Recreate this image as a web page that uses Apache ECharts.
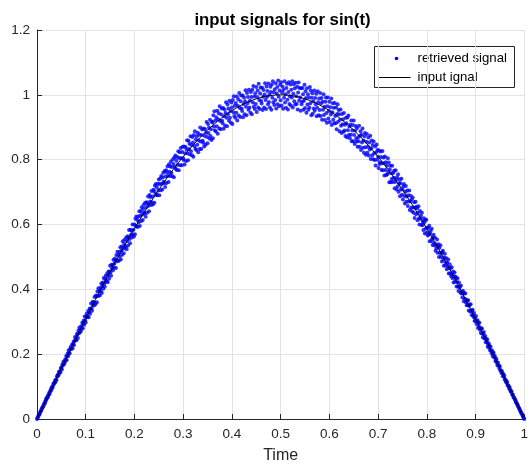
<!DOCTYPE html>
<html>
<head>
<meta charset="utf-8">
<script src="https://cdn.jsdelivr.net/npm/echarts@6/dist/echarts.min.js"></script>
<style>html,body{margin:0;padding:0;background:#fff;}#chart{width:531px;height:469px;}</style>
</head>
<body>
<div id="chart"></div>
<script>
// x tick values and y tick values
const xTicks = [0, 0.1, 0.2, 0.3, 0.4, 0.5, 0.6, 0.7, 0.8, 0.9, 1];
const yTicks = [0, 0.2, 0.4, 0.6, 0.8, 1, 1.2];

// input signal, sampled every 0.01 of time
const inputStep = 0.01;
const inputSignal = [
0, .0314, .0628, .0941, .1253, .1564, .1874, .2181, .2487, .2790,
.3090, .3387, .3681, .3971, .4258, .4540, .4818, .5090, .5358, .5621,
.5878, .6129, .6374, .6613, .6845, .7071, .7290, .7501, .7705, .7902,
.8090, .8271, .8443, .8607, .8763, .8910, .9048, .9178, .9298, .9409,
.9511, .9603, .9686, .9759, .9823, .9877, .9921, .9956, .9980, .9995,
1,
.9995, .9980, .9956, .9921, .9877, .9823, .9759, .9686, .9603, .9511,
.9409, .9298, .9178, .9048, .8910, .8763, .8607, .8443, .8271, .8090,
.7902, .7705, .7501, .7290, .7071, .6845, .6613, .6374, .6129, .5878,
.5621, .5358, .5090, .4818, .4540, .4258, .3971, .3681, .3387, .3090,
.2790, .2487, .2181, .1874, .1564, .1253, .0941, .0628, .0314, 0
];

// retrieved signal, sampled every 0.001 of time
const retrievedStep = 0.001;
const retrievedSignal = [
0,.003,.006,.010,.012,.015,.019,.022,.025,.028,
.033,.034,.038,.039,.045,.048,.048,.055,.056,.063,
.062,.067,.067,.073,.074,.081,.078,.085,.090,.088,
.098,.096,.097,.104,.110,.109,.111,.119,.114,.122,
.120,.132,.132,.137,.134,.146,.141,.147,.144,.157,
.158,.153,.168,.165,.176,.168,.177,.173,.184,.181,
.194,.182,.194,.202,.194,.212,.205,.202,.215,.222,
.216,.217,.230,.218,.230,.238,.228,.241,.253,.243,
.249,.243,.262,.261,.250,.273,.265,.282,.267,.278,
.271,.287,.281,.298,.279,.295,.304,.291,.316,.304,
.298,.316,.325,.315,.315,.333,.314,.330,.340,.325,
.341,.356,.341,.334,.361,.352,.361,.350,.376,.358,
.354,.381,.378,.360,.393,.380,.403,.380,.395,.382,
.404,.394,.418,.389,.411,.421,.402,.435,.417,.408,
.432,.442,.426,.425,.450,.422,.443,.455,.433,.454,
.473,.452,.442,.476,.464,.475,.459,.491,.467,.480,
.495,.489,.466,.506,.489,.516,.487,.506,.489,.515,
.501,.530,.492,.519,.532,.507,.548,.525,.511,.540,
.553,.532,.530,.560,.524,.549,.564,.535,.560,.583,
.555,.542,.584,.568,.581,.560,.600,.569,.584,.563,
.600,.570,.618,.596,.625,.593,.614,.593,.625,.607,
.641,.595,.627,.641,.611,.653,.631,.614,.648,.661,
.636,.634,.667,.624,.653,.669,.636,.665,.686,.658,
.641,.691,.671,.685,.660,.703,.669,.686,.662,.707,
.703,.667,.720,.696,.725,.691,.715,.690,.726,.705,
.739,.690,.725,.742,.706,.750,.726,.708,.745,.760,
.732,.727,.765,.716,.748,.767,.728,.760,.780,.750,
.731,.786,.763,.779,.750,.794,.759,.777,.749,.801,
.787,.746,.807,.778,.813,.771,.797,.768,.808,.784,
.826,.767,.805,.823,.783,.836,.804,.783,.824,.840,
.804,.799,.841,.785,.820,.839,.796,.831,.860,.819,
.798,.858,.833,.849,.816,.872,.826,.845,.814,.870,
.853,.809,.876,.842,.888,.834,.862,.830,.872,.846,
.883,.823,.859,.877,.833,.899,.856,.833,.876,.893,
.858,.852,.896,.841,.873,.894,.846,.883,.916,.870,
.851,.910,.882,.899,.865,.923,.873,.894,.861,.918,
.915,.866,.937,.902,.949,.891,.921,.887,.931,.903,
.951,.880,.924,.943,.896,.965,.919,.894,.939,.958,
.920,.912,.959,.895,.934,.955,.905,.944,.977,.929,
.903,.970,.940,.958,.920,.982,.929,.950,.914,.976,
.961,.910,.984,.946,.996,.935,.966,.929,.975,.945,
.995,.921,.966,.986,.936,1.006,.959,.932,.980,.998,
.958,.950,.998,.931,.972,.992,.940,.980,1.014,.963,
.937,1.006,.974,.993,.954,1.016,.961,.982,.945,1.009,
.993,.940,1.016,.976,1.027,.963,.995,.956,1.005,.972,
1.024,.947,.993,1.013,.961,1.034,.984,.956,1.004,1.023,
.981,.973,1.022,.953,.994,1.015,.961,1.001,1.036,.984,
.956,1.026,.993,1.012,.971,1.035,.978,1.000,.961,1.025,
1.009,.954,1.032,.991,1.042,.977,1.008,.969,1.017,.984,
1.036,.958,1.004,1.024,.971,1.044,.994,.965,1.013,1.031,
.983,1.039,.967,1.007,1.026,.957,1.016,.991,1.042,.976,
1.002,.960,1.021,1.034,.985,.955,1.009,1.039,.972,.996,
1.032,.967,1.016,.992,1.042,.961,1.003,1.033,.980,1.020,
.970,1.037,.996,.972,1.025,.955,1.007,1.038,.982,1.021,
.992,.951,1.020,.971,.979,1.021,1.002,.954,.982,1.031,
.959,1.011,.990,.945,1.020,.970,1.002,.954,.992,.961,
1.024,.974,1.013,.937,.991,1.005,.942,.980,.958,1.013,
.951,.990,.971,1.003,.934,.960,1.011,.977,.937,.989,
.953,1.006,.935,.973,.990,.923,.979,.954,1.002,.938,
.963,.922,.979,.992,.944,.914,.965,.992,.927,.950,
.979,.916,.962,.939,.989,.907,.946,.974,.923,.960,
.912,.975,.935,.912,.961,.894,.941,.971,.917,.953,
.940,.888,.923,.955,.905,.882,.941,.909,.925,.886,
.944,.890,.908,.873,.929,.912,.869,.930,.891,.936,
.876,.902,.866,.908,.877,.921,.857,.890,.907,.857,
.921,.876,.848,.890,.904,.865,.856,.898,.840,.869,
.857,.905,.840,.874,.888,.830,.877,.853,.896,.837,
.859,.821,.872,.882,.838,.815,.855,.879,.821,.840,
.868,.813,.853,.831,.874,.802,.835,.859,.814,.845,
.801,.856,.820,.799,.841,.782,.823,.847,.800,.830,
.809,.774,.828,.787,.792,.825,.808,.768,.789,.827,
.767,.807,.789,.751,.810,.768,.792,.753,.781,.755,
.804,.762,.791,.730,.770,.781,.730,.758,.740,.781,
.731,.759,.744,.766,.712,.731,.767,.739,.708,.746,
.717,.755,.701,.727,.739,.687,.727,.708,.741,.692,
.709,.677,.718,.725,.688,.665,.701,.719,.670,.686,
.705,.657,.690,.671,.705,.645,.672,.689,.652,.677,
.640,.683,.653,.636,.669,.620,.652,.670,.632,.655,
.650,.613,.636,.656,.619,.600,.642,.618,.627,.599,
.636,.598,.609,.583,.619,.607,.572,.615,.588,.615,
.575,.590,.566,.590,.569,.596,.548,.572,.581,.549,
.587,.556,.537,.561,.568,.543,.535,.559,.519,.538,
.527,.554,.513,.532,.539,.500,.528,.512,.536,.500,
.511,.486,.515,.519,.491,.473,.498,.510,.474,.483,
.496,.462,.483,.468,.492,.449,.465,.477,.450,.466,
.440,.468,.446,.434,.455,.421,.440,.452,.424,.439,
.435,.409,.423,.434,.409,.395,.421,.405,.409,.390,
.412,.387,.392,.375,.396,.387,.363,.389,.371,.387,
.360,.368,.351,.365,.351,.366,.335,.349,.353,.332,
.354,.334,.321,.334,.337,.320,.315,.327,.302,.312,
.304,.318,.293,.302,.305,.281,.296,.285,.297,.275,
.280,.265,.279,.279,.263,.252,.264,.268,.248,.251,
.256,.237,.246,.238,.246,.223,.230,.234,.219,.225,
.211,.223,.211,.203,.211,.194,.202,.205,.190,.195,
.191,.178,.182,.185,.173,.165,.174,.166,.165,.156,
.162,.150,.150,.142,.148,.143,.132,.139,.131,.134,
.122,.123,.115,.118,.111,.114,.103,.103,.102,.094,
.098,.090,.085,.086,.085,.077,.074,.074,.066,.066,
.064,.059,.058,.052,.051,.046,.045,.040,.038,.034,
.032,.028,.025,.022,.018,.016,.013,.009,.006,.003,
0
];

const titleText = 'input signals for sin(t)';
const xName = 'Time';
const seriesNames = ['retrieved signal', 'input ignal'];

const FONT = '"Liberation Sans", Arial, Helvetica, sans-serif';
const TXT = '#262626';

const retrievedData = retrievedSignal.map((v, i) => [+(i * retrievedStep).toFixed(4), v]);
const inputData = inputSignal.map((v, i) => [+(i * inputStep).toFixed(4), v]);

const chart = echarts.init(document.getElementById('chart'), null, {renderer: 'canvas'});

const option = {
  animation: false,
  backgroundColor: '#ffffff',
  textStyle: {fontFamily: FONT},
  title: {
    text: titleText,
    left: 277.5,
    top: 7,
    textAlign: 'center',
    textStyle: {fontFamily: FONT, fontSize: 16.8, fontWeight: 'bold', color: '#000'}
  },
  grid: {left: 37, right: 3, top: 30, bottom: 50, containLabel: false},
  xAxis: {
    type: 'value',
    min: xTicks[0], max: xTicks[xTicks.length - 1], interval: 0.1,
    name: xName, nameLocation: 'middle', nameGap: 29,
    nameTextStyle: {fontFamily: FONT, fontSize: 16, color: TXT},
    axisLine: {show: true, onZero: false, lineStyle: {color: TXT, width: 1}},
    axisTick: {show: true, inside: true, length: 5, lineStyle: {color: TXT}},
    axisLabel: {fontFamily: FONT, fontSize: 13.5, color: TXT, margin: 8,
      formatter: v => String(+v.toFixed(1))},
    splitLine: {show: true, lineStyle: {color: '#e3e3e3', width: 1}}
  },
  yAxis: {
    type: 'value',
    min: yTicks[0], max: yTicks[yTicks.length - 1], interval: 0.2,
    axisLine: {show: true, onZero: false, lineStyle: {color: TXT, width: 1}},
    axisTick: {show: true, inside: true, length: 5, lineStyle: {color: TXT}},
    axisLabel: {fontFamily: FONT, fontSize: 13.5, color: TXT, margin: 7,
      formatter: v => String(+v.toFixed(1))},
    splitLine: {show: true, lineStyle: {color: '#e3e3e3', width: 1}}
  },
  series: [
    {
      name: seriesNames[0],
      type: 'scatter',
      data: retrievedData,
      symbol: 'circle',
      symbolSize: 4,
      itemStyle: {color: '#0000ff'},
      z: 2,
      silent: true
    },
    {
      name: seriesNames[1],
      type: 'line',
      data: inputData,
      showSymbol: false,
      symbol: 'none',
      smooth: false,
      lineStyle: {color: '#000000', width: 1},
      z: 3,
      silent: true
    }
  ],
  graphic: [
    {
      type: 'group',
      left: 374, top: 46,
      children: [
        {type: 'rect', shape: {x: 0, y: 0, width: 140, height: 41},
          style: {fill: '#ffffff', stroke: '#262626', lineWidth: 1}},
        {type: 'circle', shape: {cx: 22, cy: 12, r: 1.8}, style: {fill: '#0000ff'}},
        {type: 'line', shape: {x1: 4, y1: 31, x2: 36, y2: 31}, style: {stroke: '#000', lineWidth: 1}},
        {type: 'text', x: 43, y: 12, style: {text: seriesNames[0], fontFamily: FONT, fontSize: 13.2, fill: '#000', verticalAlign: 'middle'}},
        {type: 'text', x: 43, y: 31, style: {text: seriesNames[1], fontFamily: FONT, fontSize: 13.2, fill: '#000', verticalAlign: 'middle'}}
      ]
    }
  ]
};
chart.setOption(option);
</script>
</body>
</html>
